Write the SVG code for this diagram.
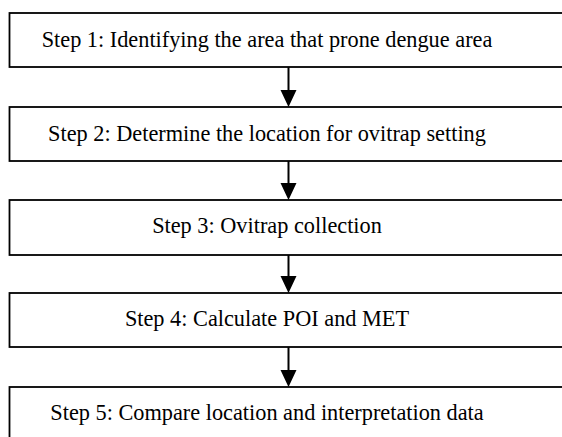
<svg xmlns="http://www.w3.org/2000/svg" width="562" height="437" viewBox="0 0 562 437">
<style>
.box{fill:#fff;stroke:#000;stroke-width:1.8}
.t{font-family:"Liberation Serif","Times New Roman",serif;font-size:22.3px;fill:#000;text-anchor:middle}
.ln{stroke:#000;stroke-width:2;fill:none}
.ah{fill:#000}
</style>
<rect width="562" height="437" fill="#fff"/>
<g id="step1"><rect class="box" x="9.5" y="13" width="570" height="54"/><text class="t" x="267" y="46.7">Step 1: Identifying the area that prone dengue area</text></g>
<g id="step2"><rect class="box" x="9.5" y="107" width="570" height="54"/><text class="t" x="267" y="141">Step 2: Determine the location for ovitrap setting</text></g>
<g id="step3"><rect class="box" x="9.5" y="200" width="570" height="55"/><text class="t" x="267" y="232.7">Step 3: Ovitrap collection</text></g>
<g id="step4"><rect class="box" x="9.5" y="293" width="570" height="54"/><text class="t" x="267" y="326">Step 4: Calculate POI and MET</text></g>
<g id="step5"><rect class="box" x="9.5" y="387" width="570" height="60"/><text class="t" x="267" y="420">Step 5: Compare location and interpretation data</text></g>
<g id="connectors">
<line class="ln" x1="288.5" y1="67" x2="288.5" y2="92"/><polygon class="ah" points="280.5,90 296.5,90 288.5,107"/>
<line class="ln" x1="288.5" y1="161" x2="288.5" y2="185"/><polygon class="ah" points="280.5,183 296.5,183 288.5,200"/>
<line class="ln" x1="288.5" y1="255" x2="288.5" y2="278"/><polygon class="ah" points="280.5,276 296.5,276 288.5,293"/>
<line class="ln" x1="288.5" y1="347" x2="288.5" y2="372"/><polygon class="ah" points="280.5,370 296.5,370 288.5,387"/>
</g>
</svg>
